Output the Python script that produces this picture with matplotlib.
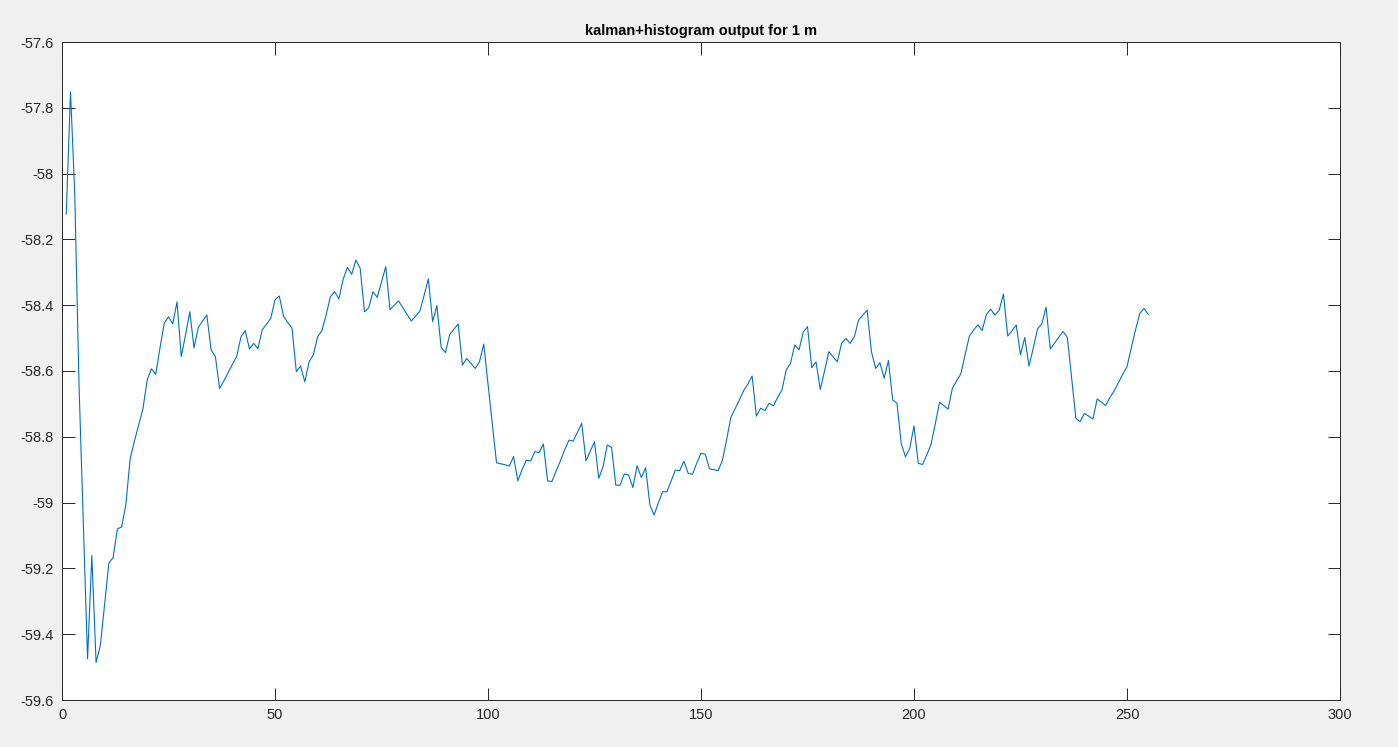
import matplotlib
matplotlib.use("Agg")
import matplotlib.pyplot as plt
from matplotlib.ticker import FuncFormatter

# filtered RSSI output, one sample per step
rssi = [
    -58.123, -57.751, -58.065, -58.645, -59.06, -59.475, -59.161, -59.486, -59.434, -59.31,
    -59.184, -59.167, -59.08, -59.074, -59.005, -58.866, -58.813, -58.764, -58.715, -58.627,
    -58.593, -58.61, -58.53, -58.455, -58.435, -58.457, -58.39, -58.556, -58.49, -58.42,
    -58.53, -58.467, -58.448, -58.43, -58.536, -58.556, -58.653, -58.63, -58.605, -58.58,
    -58.556, -58.497, -58.477, -58.533, -58.516, -58.532, -58.475, -58.458, -58.44, -58.384,
    -58.372, -58.433, -58.453, -58.47, -58.602, -58.585, -58.633, -58.572, -58.551, -58.496,
    -58.477, -58.43, -58.374, -58.359, -58.381, -58.321, -58.285, -58.306, -58.263, -58.288,
    -58.42, -58.408, -58.359, -58.376, -58.33, -58.283, -58.414, -58.40, -58.387, -58.407,
    -58.428, -58.448, -58.433, -58.418, -58.37, -58.32, -58.45, -58.401, -58.528, -58.544,
    -58.49, -58.473, -58.457, -58.582, -58.562, -58.577, -58.592, -58.572, -58.518, -58.64,
    -58.76, -58.879, -58.882, -58.885, -58.889, -58.86, -58.934, -58.90, -58.871, -58.874,
    -58.845, -58.848, -58.822, -58.934, -58.936, -58.904, -58.873, -58.84, -58.81, -58.813,
    -58.786, -58.759, -58.873, -58.844, -58.815, -58.926, -58.891, -58.825, -58.832, -58.947,
    -58.947, -58.913, -58.916, -58.954, -58.888, -58.924, -58.894, -59.007, -59.038, -59.0,
    -58.967, -58.967, -58.934, -58.901, -58.903, -58.874, -58.911, -58.914, -58.88, -58.85,
    -58.853, -58.897, -58.90, -58.903, -58.873, -58.81, -58.741, -58.715, -58.688, -58.66,
    -58.64, -58.615, -58.737, -58.713, -58.72, -58.698, -58.706, -58.68, -58.658, -58.597,
    -58.577, -58.521, -58.536, -58.482, -58.465, -58.59, -58.572, -58.656, -58.60, -58.541,
    -58.557, -58.572, -58.516, -58.501, -58.516, -58.496, -58.445, -58.43, -58.415, -58.541,
    -58.592, -58.575, -58.622, -58.568, -58.688, -58.698, -58.82, -58.861, -58.835, -58.767,
    -58.881, -58.884, -58.855, -58.823, -58.76, -58.695, -58.705, -58.716, -58.653, -58.63,
    -58.609, -58.55, -58.494, -58.475, -58.46, -58.477, -58.428, -58.412, -58.43, -58.415,
    -58.366, -58.494, -58.478, -58.46, -58.551, -58.498, -58.585, -58.53, -58.472, -58.457,
    -58.406, -58.533, -58.515, -58.497, -58.48, -58.498, -58.62, -58.744, -58.754, -58.729,
    -58.737, -58.746, -58.685, -58.695, -58.705, -58.68, -58.66, -58.635, -58.61, -58.587,
    -58.53, -58.475, -58.425, -58.41, -58.428,
]
samples = list(range(1, len(rssi) + 1))

x_ticks = [0, 50, 100, 150, 200, 250, 300]
y_ticks = [-59.6, -59.4, -59.2, -59.0, -58.8, -58.6, -58.4, -58.2, -58.0, -57.8, -57.6]
title = "kalman+histogram output for 1 m"

plt.rcParams["font.family"] = ["Liberation Sans", "DejaVu Sans"]

fig = plt.figure(figsize=(13.98, 7.47), dpi=100, facecolor="#f0f0f0")
ax = fig.add_axes([62 / 1398, 1 - 700 / 747, (1340 - 62) / 1398, (700 - 42) / 747])
ax.set_facecolor("white")

ax.plot(samples, rssi, color="#0072BD", linewidth=0.8)

ax.set_xlim(0, 300)
ax.set_ylim(-59.6, -57.6)
ax.set_xticks(x_ticks)
ax.set_yticks(y_ticks)
ax.yaxis.set_major_formatter(FuncFormatter(lambda v, _: f"{v:g}"))

for side in ax.spines.values():
    side.set_color("#262626")
    side.set_linewidth(0.7)
ax.tick_params(direction="in", length=9, width=0.7, colors="#262626",
               labelsize=10.5, top=True, right=True)
ax.tick_params(axis="x", pad=6)
ax.tick_params(axis="y", pad=6)

ax.set_title(title, fontsize=10.5, fontweight="bold", color="black", pad=5)

fig.savefig("out.png", dpi=100, facecolor=fig.get_facecolor())
plt.close(fig)
